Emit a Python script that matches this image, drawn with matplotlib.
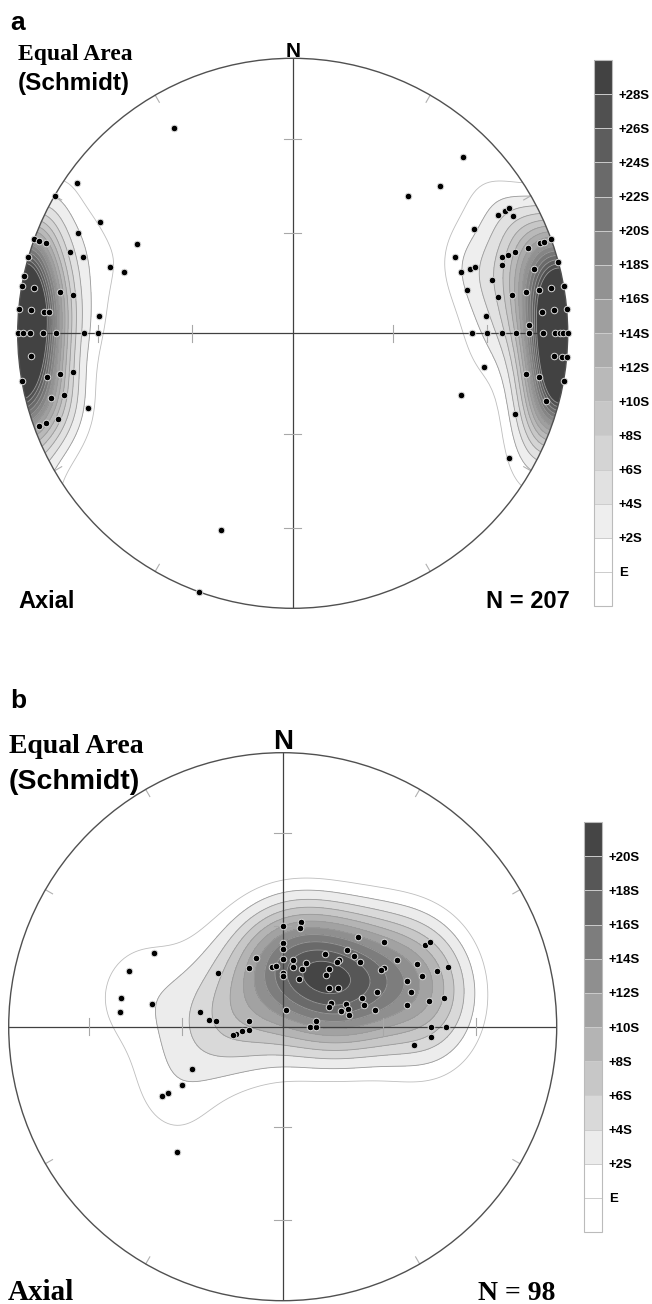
import numpy as np
import matplotlib
matplotlib.use('Agg')
import matplotlib.pyplot as plt
from matplotlib.colors import ListedColormap, BoundaryNorm
from matplotlib.cm import ScalarMappable
from matplotlib.patches import Circle

# panel a - axial lines, trend / plunge (deg), lower hemisphere
a_trend = [305,300,300,295,300,290,290,290,290,290,286,290,290,282,280,280,280,280,275,275,275,275,275,270,270,270,270,270,270,270,265,260,260,260,260,255,255,250,250,250,250,330,200,200,
           44,45,40,60,60,60,60,62,65,70,70,70,70,70,70,70,70,70,70,72,75,75,75,76,80,80,80,80,80,80,85,85,85,85,88,90,90,90,90,90,90,90,90,90,90,95,95,95,100,100,100,100,110,105,110,120]
a_plunge = [5,0,20,15,35,0,2,5,15,20,0,30,35,0,0,5,15,20,0,5,10,12,30,0,2,5,10,15,25,30,5,0,10,15,20,10,15,22,2,5,10,15,25,0,
            12,25,35,25,15,12,10,10,35,35,32,30,20,18,15,10,5,3,0,21,10,0,26,35,25,20,15,10,5,0,10,5,0,30,15,35,30,25,20,15,10,5,3,2,0,5,2,0,30,15,10,0,35,5,15,10]
# measurements hidden under each plotted dot (207 in all, estimated)
a_count = [1,1,1,1,1,1,1,1,1,1, 4,1,1,4,4,4,1,1,4,4, 4,4,1,5,4,4,4,1,1,1, 4,4,4,1,1,4,1,1,1,1, 1,1,1,1,
           1,1,1,1,1,1,1,1,1,1, 1,1,1,1,1,1,1,1,1,1, 4,4,1,1,1,1,1,4,4,4, 4,4,4,1,1,1,1,1,1,1, 4,4,4,4,5,4,4,4,1,1, 4,4,1,4,1,1]
a_labels = ['E', '+2S', '+4S', '+6S', '+8S', '+10S', '+12S', '+14S', '+16S', '+18S', '+20S', '+22S', '+24S', '+26S', '+28S']

# panel b
b_trend = [10,10,0,0,0,339,0,9,20,330,350,354,10,19,0,0,19,310,10,280,275,275,280,265,264,261,260,90,90,80,
           40,50,60,60,30,40,45,50,40,40,39,40,60,65,70,70,60,60,70,70,50,55,70,75,70,75,64,67,70,75,75,80,80,80,80,80,90,90,94,98,
           290,280,275,280,300,245,240,240,240,220]
b_plunge = [58,60,60,65,67,68,70,70,70,70,72,72,72,72,74,75,75,65,85,65,68,70,80,80,78,76,75,82,80,80,
            55,50,40,38,65,60,60,60,64,65,68,70,50,45,36,40,55,56,45,50,72,70,60,50,65,65,74,75,70,72,70,70,62,52,45,40,45,40,45,50,
            40,40,40,50,45,60,55,50,48,40]
b_count = [98 / 80.0] * 80
b_labels = ['E', '+2S', '+4S', '+6S', '+8S', '+10S', '+12S', '+14S', '+16S', '+18S', '+20S']

W, H = 652, 1304
SANS = 'Liberation Sans'
SERIF = 'Liberation Serif'


def vec(trend, plunge):
    t = np.radians(trend)
    p = np.radians(plunge)
    return np.column_stack([np.cos(p) * np.sin(t), np.cos(p) * np.cos(t), -np.sin(p)])


def project(trend, plunge):
    t = np.radians(np.asarray(trend, float))
    p = np.radians(np.asarray(plunge, float))
    r = np.sqrt(2) * np.sin((np.pi / 2 - p) / 2)
    return r * np.sin(t), r * np.cos(t)


def kamb_density(trend, plunge, weights, gx, gy):
    # exponential kamb (E = 3 sigma), axial data, result in std-dev units
    weights = np.asarray(weights, float)
    n = weights.sum()
    rr = np.clip(np.hypot(gx, gy), 0, 1)
    gp = 90 - 2 * np.degrees(np.arcsin(rr / np.sqrt(2)))
    gt = np.degrees(np.arctan2(gx, gy))
    cos_d = np.abs(vec(gt.ravel(), gp.ravel()) @ vec(trend, plunge).T)
    f = 2 * (1 + n / 9.0)
    counts = (np.exp(f * (cos_d - 1)) * weights).sum(axis=1)
    units = np.sqrt(n * (f / 2 - 1) / f ** 2)
    return (counts / units).reshape(gx.shape)


def net(cx, cy, R, trend, plunge, weights, labels, cbar_rect, gray_hi, gray_lo):
    ax = fig.add_axes([(cx - R) / W, 1 - (cy + R) / H, 2 * R / W, 2 * R / H])
    ax.set_xlim(-1, 1)
    ax.set_ylim(-1, 1)
    ax.set_aspect('equal')
    ax.axis('off')

    levels = list(3 + 2 * np.arange(len(labels)))
    grays = np.linspace(gray_hi, gray_lo, len(labels) - 1)
    colors = ['white', 'white'] + [str(g) for g in grays]

    g = np.linspace(-1.02, 1.02, 181)
    gx, gy = np.meshgrid(g, g)
    dens = kamb_density(trend, plunge, weights, gx, gy)

    clip = Circle((0, 0), 1, transform=ax.transData)
    cf = ax.contourf(gx, gy, dens, levels=[-1] + levels + [1e4], colors=colors, zorder=1)
    cf.set_clip_path(clip)
    line_cols = ['#bdbdbd'] + ['#9a9a9a'] * (len(levels) - 1)
    cl = ax.contour(gx, gy, dens, levels=levels, colors=line_cols, linewidths=0.6, zorder=2)
    cl.set_clip_path(clip)

    ax.plot([-1, 1], [0, 0], color='#404040', lw=0.9, zorder=3)
    ax.plot([0, 0], [-1, 1], color='#404040', lw=0.9, zorder=3)
    ax.add_patch(Circle((0, 0), 1, fill=False, ec='#505050', lw=1.0, zorder=4, clip_on=False))

    for az in range(30, 360, 30):
        if az % 90 == 0:
            continue
        s, c = np.sin(np.radians(az)), np.cos(np.radians(az))
        ax.plot([s, 0.97 * s], [c, 0.97 * c], color='#b0b0b0', lw=0.8, zorder=3)
    for pl in (30, 60):
        r = np.sqrt(2) * np.sin(np.radians(90 - pl) / 2)
        for sgn in (-1, 1):
            ax.plot([sgn * r, sgn * r], [-0.031, 0.031], color='#a8a8a8', lw=0.8, zorder=3)
            ax.plot([-0.031, 0.031], [sgn * r, sgn * r], color='#a8a8a8', lw=0.8, zorder=3)

    x, y = project(trend, plunge)
    ax.plot(x, y, 'o', ms=4.7, mfc='black', mec='#d9d9d9', mew=0.7, zorder=5, clip_on=False)

    cax = fig.add_axes(cbar_rect)
    bounds = [levels[0] - 2] + levels + [levels[-1] + 2]
    sm = ScalarMappable(norm=BoundaryNorm(bounds, len(colors)), cmap=ListedColormap(colors))
    cb = fig.colorbar(sm, cax=cax, drawedges=True)
    cb.set_ticks(levels, labels=labels)
    cb.minorticks_off()
    cb.outline.set_edgecolor('#bbbbbb')
    cb.outline.set_linewidth(0.8)
    cb.dividers.set_color('#cccccc')
    cb.dividers.set_linewidth(0.7)
    cax.tick_params(which='both', length=0, pad=5, labelsize=9.5)
    for t in cax.get_yticklabels():
        t.set_fontweight('bold')
        t.set_fontfamily(SANS)
    return ax


def txt(x, y, s, family, size, ha='left'):
    fig.text(x / W, 1 - y / H, s, family=family, fontsize=size, fontweight='bold', ha=ha, va='baseline')


fig = plt.figure(figsize=(W / 100, H / 100), dpi=100)

net(292.7, 333.3, 275, a_trend, a_plunge, a_count, a_labels,
    [594 / W, 1 - 606 / H, 18 / W, 546 / H], 0.935, 0.26)
txt(10, 30, 'a', SANS, 19)
txt(18, 60, 'Equal Area', SERIF, 17)
txt(18, 90, '(Schmidt)', SANS, 17.5)
txt(292.7, 57, 'N', SANS, 15, ha='center')
txt(18, 608, 'Axial', SANS, 17)
txt(570, 608, 'N = 207', SANS, 17, ha='right')

net(282.7, 1026.7, 274, b_trend, b_plunge, b_count, b_labels,
    [584 / W, 1 - 1232 / H, 18 / W, 410 / H], 0.925, 0.27)
txt(10, 708, 'b', SANS, 19)
txt(9, 753, 'Equal Area', SERIF, 20)
txt(9, 789, '(Schmidt)', SANS, 20.5)
txt(282.7, 749, 'N', SANS, 20, ha='center')
txt(8, 1300, 'Axial', SERIF, 21)
txt(555, 1300, 'N = 98', SERIF, 20, ha='right')

fig.savefig('out.png', dpi=100)
